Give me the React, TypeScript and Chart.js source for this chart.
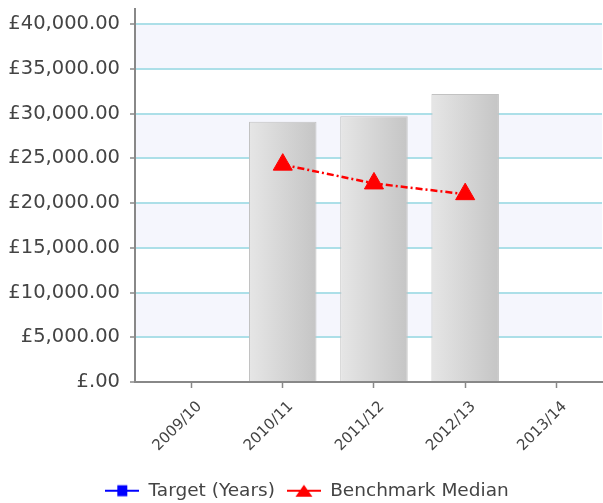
import React, { useEffect, useRef } from 'react';
import { Chart, registerables } from 'chart.js';

Chart.register(...registerables);

const categories = ['2009/10', '2010/11', '2011/12', '2012/13', '2013/14'];
const costValues: (number | null)[] = [null, 29100, 29700, 32200, null];
const benchmarkValues: (number | null)[] = [null, 24300, 22200, 21000, null];
const targetValues: (number | null)[] = [null, null, null, null, null];
const yTickValues = [0, 5000, 10000, 15000, 20000, 25000, 30000, 35000, 40000];

const FONT = "'DejaVu Sans', Verdana, sans-serif";
const W = 603;
const H = 503;

function fmtGBP(v: number): string {
  if (v === 0) return '£.00';
  return '£' + v.toLocaleString('en-GB', { minimumFractionDigits: 2, maximumFractionDigits: 2 });
}

function makeIcon(color: string, shape: 'square' | 'triangle'): HTMLCanvasElement {
  const c = document.createElement('canvas');
  c.width = 34;
  c.height = 18;
  const g = c.getContext('2d')!;
  g.strokeStyle = color;
  g.lineWidth = 2;
  g.beginPath();
  g.moveTo(0, 9);
  g.lineTo(34, 9);
  g.stroke();
  g.fillStyle = color;
  if (shape === 'square') {
    g.fillRect(12, 3.5, 10, 11);
  } else {
    g.beginPath();
    g.moveTo(17, 3);
    g.lineTo(25.5, 15);
    g.lineTo(8.5, 15);
    g.closePath();
    g.fill();
  }
  return c;
}

const bandPlugin = {
  id: 'bands',
  beforeDraw(chart: any) {
    const { ctx, chartArea, scales } = chart;
    const y = scales.y;
    ctx.save();
    for (let i = 0; i < yTickValues.length - 1; i++) {
      if (i % 2 === 1) {
        const top = y.getPixelForValue(yTickValues[i + 1]);
        const bot = y.getPixelForValue(yTickValues[i]);
        ctx.fillStyle = '#f5f6fd';
        ctx.fillRect(chartArea.left, top, chartArea.right - chartArea.left, bot - top);
      }
    }
    ctx.restore();
  },
};

const legendShiftPlugin = {
  id: 'legendShift',
  afterLayout(chart: any) {
    if (chart.legend) {
      chart.legend.left += 6;
      chart.legend.right += 6;
    }
  },
};

export default function App() {
  const ref = useRef<HTMLCanvasElement>(null);

  useEffect(() => {
    const canvas = ref.current!;
    const icons: Record<number, HTMLCanvasElement> = {
      1: makeIcon('#0000ff', 'square'),
      2: makeIcon('#ff0000', 'triangle'),
    };
    const barPct = 0.74;

    const chart = new Chart(canvas, {
      type: 'bar',
      data: {
        datasets: [
          {
            type: 'bar',
            label: 'Cost',
            data: categories.map((_, i) => ({ x: i, y: costValues[i] })) as any,
            order: 2,
            barPercentage: barPct,
            categoryPercentage: 1,
            borderColor: '#c2c2c2',
            borderWidth: 1,
            backgroundColor: (c: any) => {
              const ch = c.chart;
              const xs = ch.scales?.x;
              if (!xs || c.dataIndex === undefined) return '#d8d8d8';
              const cx = xs.getPixelForValue(c.dataIndex);
              const unit = Math.abs(xs.getPixelForValue(1) - xs.getPixelForValue(0));
              const hw = (unit * barPct) / 2;
              if (!isFinite(cx) || !isFinite(hw)) return '#d8d8d8';
              const g = ch.ctx.createLinearGradient(cx - hw, 0, cx + hw, 0);
              g.addColorStop(0, '#e6e6e6');
              g.addColorStop(1, '#c5c5c5');
              return g;
            },
          } as any,
          {
            type: 'line',
            label: 'Target (Years)',
            data: categories.map((_, i) => ({ x: i, y: targetValues[i] })) as any,
            order: 1,
            borderColor: '#0000ff',
            backgroundColor: '#0000ff',
            pointStyle: 'rect',
            pointRadius: 0,
            borderWidth: 2,
          } as any,
          {
            type: 'line',
            label: 'Benchmark Median',
            data: categories.map((_, i) => ({ x: i, y: benchmarkValues[i] })) as any,
            order: 1,
            borderColor: '#ff0000',
            backgroundColor: '#ff0000',
            borderWidth: 2.5,
            borderDash: [7, 3, 2, 3],
            pointStyle: 'triangle',
            pointRadius: (c: any) => (benchmarkValues[c.dataIndex] == null ? 0 : 11),
            pointHoverRadius: (c: any) => (benchmarkValues[c.dataIndex] == null ? 0 : 11),
            pointBackgroundColor: '#ff0000',
            pointBorderColor: '#ff0000',
            pointBorderWidth: 1,
          } as any,
        ],
      },
      options: {
        responsive: false,
        animation: false,
        devicePixelRatio: 1,
        layout: { padding: { top: 9, right: 1, left: 0, bottom: -7 } },
        scales: {
          x: {
            type: 'linear',
            min: -0.62,
            max: 4.5,
            offset: false,
            afterBuildTicks: (s: any) => {
              s.ticks = categories.map((_, i) => ({ value: i }));
            },
            afterFit: (s: any) => {
              s.height = 87.5;
              s.paddingLeft = 0;
              s.paddingRight = 0;
            },
            grid: {
              display: true,
              offset: false,
              drawOnChartArea: false,
              drawTicks: true,
              tickLength: 6,
              tickColor: '#888888',
              tickWidth: 1.5,
            },
            border: { display: true, color: '#888888', width: 2 },
            ticks: {
              autoSkip: false,
              minRotation: 45,
              maxRotation: 45,
              padding: 10,
              labelOffset: 8,
              color: '#444444',
              font: { family: FONT, size: 15 },
              callback: (v: any) => categories[Number(v)] ?? '',
            },
          },
          y: {
            type: 'linear',
            min: 0,
            max: 41700,
            z: 1,
            afterBuildTicks: (s: any) => {
              s.ticks = yTickValues.map((v) => ({ value: v }));
            },
            afterFit: (s: any) => {
              s.width = 135;
              s.paddingTop = 0;
              s.paddingBottom = 0;
            },
            grid: {
              color: '#acdfe8',
              lineWidth: 2,
              drawTicks: true,
              tickLength: 5,
              tickColor: '#888888',
              tickWidth: 1.5,
            },
            border: { display: true, color: '#888888', width: 2 },
            ticks: {
              padding: 10,
              color: '#444444',
              font: { family: FONT, size: 19.5 },
              callback: (v: any) => fmtGBP(Number(v)),
            },
          },
        },
        plugins: {
          tooltip: { enabled: false },
          legend: {
            display: true,
            position: 'bottom',
            labels: {
              usePointStyle: true,
              pointStyleWidth: 34,
              boxHeight: 18,
              padding: 12,
              color: '#444444',
              font: { family: FONT, size: 18.5 },
              generateLabels: (ch: any) => {
                const items = (Chart.defaults as any).plugins.legend.labels.generateLabels(ch);
                return items
                  .filter((it: any) => it.datasetIndex !== 0)
                  .map((it: any) => ({
                    ...it,
                    pointStyle: icons[it.datasetIndex],
                    lineWidth: 0,
                    fontColor: '#444444',
                  }));
              },
            },
          },
        },
      } as any,
      plugins: [bandPlugin, legendShiftPlugin],
    });

    return () => chart.destroy();
  }, []);

  return (
    <div style={{ position: 'fixed', left: 0, top: 0, width: W, height: H, background: '#ffffff' }}>
      <canvas ref={ref} width={W} height={H} style={{ display: 'block' }} />
    </div>
  );
}
